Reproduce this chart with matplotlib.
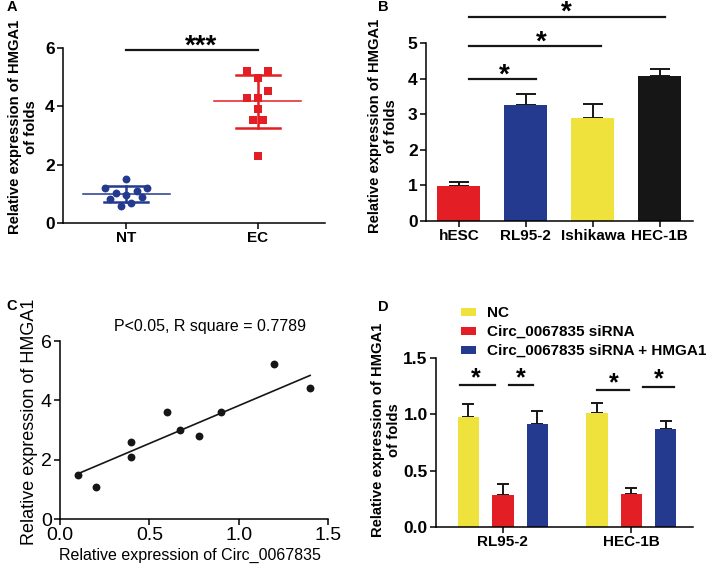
import numpy as np
import matplotlib.pyplot as plt
from matplotlib.transforms import offset_copy

plt.rcParams["font.family"] = ["Liberation Sans", "DejaVu Sans"]

W, H = 709, 566

RED = "#e31e24"
BLUE = "#243a8f"
YELLOW = "#efe23c"
BLACK = "#161616"

# Panel A: scatter of HMGA1 in tissue
a_groups = ["NT", "EC"]
nt_values = [1.50, 1.20, 1.20, 1.04, 0.96, 1.10, 0.83, 0.89, 0.57, 0.69]
ec_values = [5.20, 5.20, 4.98, 4.51, 4.30, 4.30, 3.90, 3.52, 3.52, 2.30]

# Panel B: cell lines
b_lines = ["hESC", "RL95-2", "Ishikawa", "HEC-1B"]
b_means = [0.98, 3.27, 2.89, 4.06]
b_errs = [0.11, 0.31, 0.39, 0.22]

# Panel C: correlation
c_circ = [0.10, 0.20, 0.40, 0.40, 0.60, 0.67, 0.78, 0.90, 1.20, 1.40]
c_hmga1 = [1.50, 1.08, 2.59, 2.09, 3.59, 3.00, 2.79, 3.59, 5.21, 4.43]
c_fit_slope = 2.55
c_fit_intercept = 1.27

# Panel D: knockdown / rescue
d_lines = ["RL95-2", "HEC-1B"]
d_groups = ["NC", "Circ_0067835 siRNA", "Circ_0067835 siRNA + HMGA1"]
d_nc = [0.98, 1.01]
d_nc_err = [0.11, 0.09]
d_si = [0.28, 0.29]
d_si_err = [0.10, 0.06]
d_rescue = [0.91, 0.87]
d_rescue_err = [0.12, 0.07]


def px_axes(fig, left, top, right, bottom):
    return fig.add_axes([left / W, 1 - bottom / H, (right - left) / W, (bottom - top) / H])


def style(ax, xsize=11, ysize=12.5, weight="bold"):
    for s in ["top", "right"]:
        ax.spines[s].set_visible(False)
    for s in ["left", "bottom"]:
        ax.spines[s].set_linewidth(1.1)
    ax.tick_params(direction="out", length=4, width=1.1, pad=2)
    ax.tick_params(axis="x", labelsize=xsize)
    ax.tick_params(axis="y", labelsize=ysize)
    plt.setp(ax.get_xticklabels() + ax.get_yticklabels(), fontweight=weight)


def ftext(fig, x, y, s, **kw):
    fig.text(x / W, 1 - y / H, s, **kw)


def star(ax, x, y, s="*", size=20):
    # y is roughly where the middle of the asterisk glyph should sit
    tr = offset_copy(ax.transData, fig=ax.figure, y=-0.45 * size, units="points")
    ax.text(x, y, s, ha="center", va="baseline", fontsize=size, fontweight="bold",
            transform=tr, clip_on=False)


fig = plt.figure(figsize=(W / 100, H / 100), dpi=100)

# ---- A ----
ax = px_axes(fig, 63, 48, 325, 223)
nt_jit = [0, -0.16, 0.16, -0.08, 0, 0.08, -0.12, 0.12, -0.04, 0.04]
ec_jit = [-0.08, 0.08, 0, 0.08, -0.08, 0, 0, -0.04, 0.04, 0]
for i, (vals, jit, col, mk) in enumerate([(nt_values, nt_jit, BLUE, "o"),
                                          (ec_values, ec_jit, RED, "s")]):
    m = np.mean(vals)
    sd = np.std(vals, ddof=1)
    ax.plot([i - 0.33, i + 0.33], [m, m], color=col, lw=1.1, zorder=2)
    ax.plot([i, i], [m - sd, m + sd], color=col, lw=1.8, zorder=2)
    for yy in (m - sd, m + sd):
        ax.plot([i - 0.165, i + 0.165], [yy, yy], color=col, lw=1.8, zorder=2)
    ax.scatter(np.array(jit) + i, vals, marker=mk, s=32, color=col, zorder=3, linewidths=0)
ax.plot([0, 1], [5.92, 5.92], color=BLACK, lw=1.6, clip_on=False)
star(ax, 0.57, 6.24, "***", size=20)
ax.set_xlim(-0.48, 1.51)
ax.set_ylim(0, 6)
ax.set_yticks([0, 2, 4, 6])
ax.set_xticks([0, 1])
ax.set_xticklabels(a_groups)
style(ax)

# ---- B ----
ax = px_axes(fig, 426, 43, 693, 221)
xb = np.arange(len(b_lines))
ax.bar(xb, b_means, width=0.64, color=[RED, BLUE, YELLOW, BLACK], zorder=2)
ax.errorbar(xb, b_means, yerr=[np.zeros(len(b_errs)), b_errs], fmt="none",
            ecolor=BLACK, elinewidth=1.4, capsize=7, capthick=1.4, zorder=1)
for x_end, yl, xs, ys in [(1.16, 3.98, 0.68, 4.24), (2.12, 4.91, 1.24, 5.17), (3.08, 5.73, 1.61, 6.02)]:
    ax.plot([0.16, x_end], [yl, yl], color=BLACK, lw=1.6, clip_on=False)
    star(ax, xs, ys)
ax.set_xlim(-0.49, 3.5)
ax.set_ylim(0, 5)
ax.set_xticks(xb)
ax.set_xticklabels(b_lines)
style(ax)

# ---- C ----
ax = px_axes(fig, 60, 341, 328, 519)
ax.scatter(c_circ, c_hmga1, s=32, color=BLACK, zorder=3, linewidths=0)
fx = np.array([min(c_circ), max(c_circ)])
ax.plot(fx, c_fit_slope * fx + c_fit_intercept, color=BLACK, lw=1.2)
ax.set_xlim(0, 1.5)
ax.set_ylim(0, 6)
ax.set_xticks([0, 0.5, 1.0, 1.5])
ax.set_yticks([0, 2, 4, 6])
style(ax, xsize=14, ysize=14, weight="normal")
ftext(fig, 190, 555, "Relative expression of Circ_0067835", ha="center", va="center", fontsize=11.5)
ftext(fig, 210, 327, "P<0.05, R square = 0.7789", ha="center", va="center", fontsize=11.5)

# ---- D ----
ax = px_axes(fig, 436, 358, 693, 527)
xd = np.arange(len(d_lines))
for k, (vals, errs, col) in enumerate([(d_nc, d_nc_err, YELLOW), (d_si, d_si_err, RED),
                                       (d_rescue, d_rescue_err, BLUE)]):
    xk = xd + (k - 1) * 0.268
    ax.bar(xk, vals, width=0.167, color=col, label=d_groups[k], zorder=2)
    ax.errorbar(xk, vals, yerr=[np.zeros(len(errs)), errs], fmt="none",
                ecolor=BLACK, elinewidth=1.4, capsize=4.5, capthick=1.4, zorder=1)
for x0, x1, yl, xs, ys in [(-0.33, -0.057, 1.263, -0.21, 1.358), (0.047, 0.235, 1.263, 0.14, 1.358),
                           (0.73, 0.982, 1.219, 0.864, 1.313), (1.089, 1.33, 1.243, 1.217, 1.349)]:
    ax.plot([x0, x1], [yl, yl], color=BLACK, lw=1.6, clip_on=False)
    star(ax, xs, ys, size=18)
ax.set_xlim(-0.52, 1.48)
ax.set_ylim(0, 1.5)
ax.set_xticks(xd)
ax.set_xticklabels(d_lines)
ax.set_yticks([0, 0.5, 1.0, 1.5])
ax.set_yticklabels(["0.0", "0.5", "1.0", "1.5"])
style(ax)
leg = ax.legend(loc="upper left", bbox_to_anchor=(461 / W, 1 - 306 / H),
                bbox_transform=fig.transFigure, frameon=False, borderpad=0,
                borderaxespad=0, handlelength=1.0, handleheight=0.42,
                handletextpad=0.7, labelspacing=0.33,
                prop={"size": 11, "weight": "bold"})

# y labels and panel letters
ylab = "Relative expression of HMGA1\nof folds"
for x, y in [(23, 127), (383, 126), (386, 430)]:
    ftext(fig, x, y, ylab, rotation=90, ha="center", va="center", fontsize=10.6,
          fontweight="bold", multialignment="center", linespacing=1.25)
ftext(fig, 30, 422, "Relative expression of HMGA1", rotation=90, ha="center",
      va="center", fontsize=13)
for letter, x, y in [("A", 12, 7), ("B", 383, 7), ("C", 12, 306), ("D", 383, 307)]:
    ftext(fig, x, y, letter, ha="center", va="center", fontsize=10.5, fontweight="bold")

fig.savefig("out.png", dpi=100)
